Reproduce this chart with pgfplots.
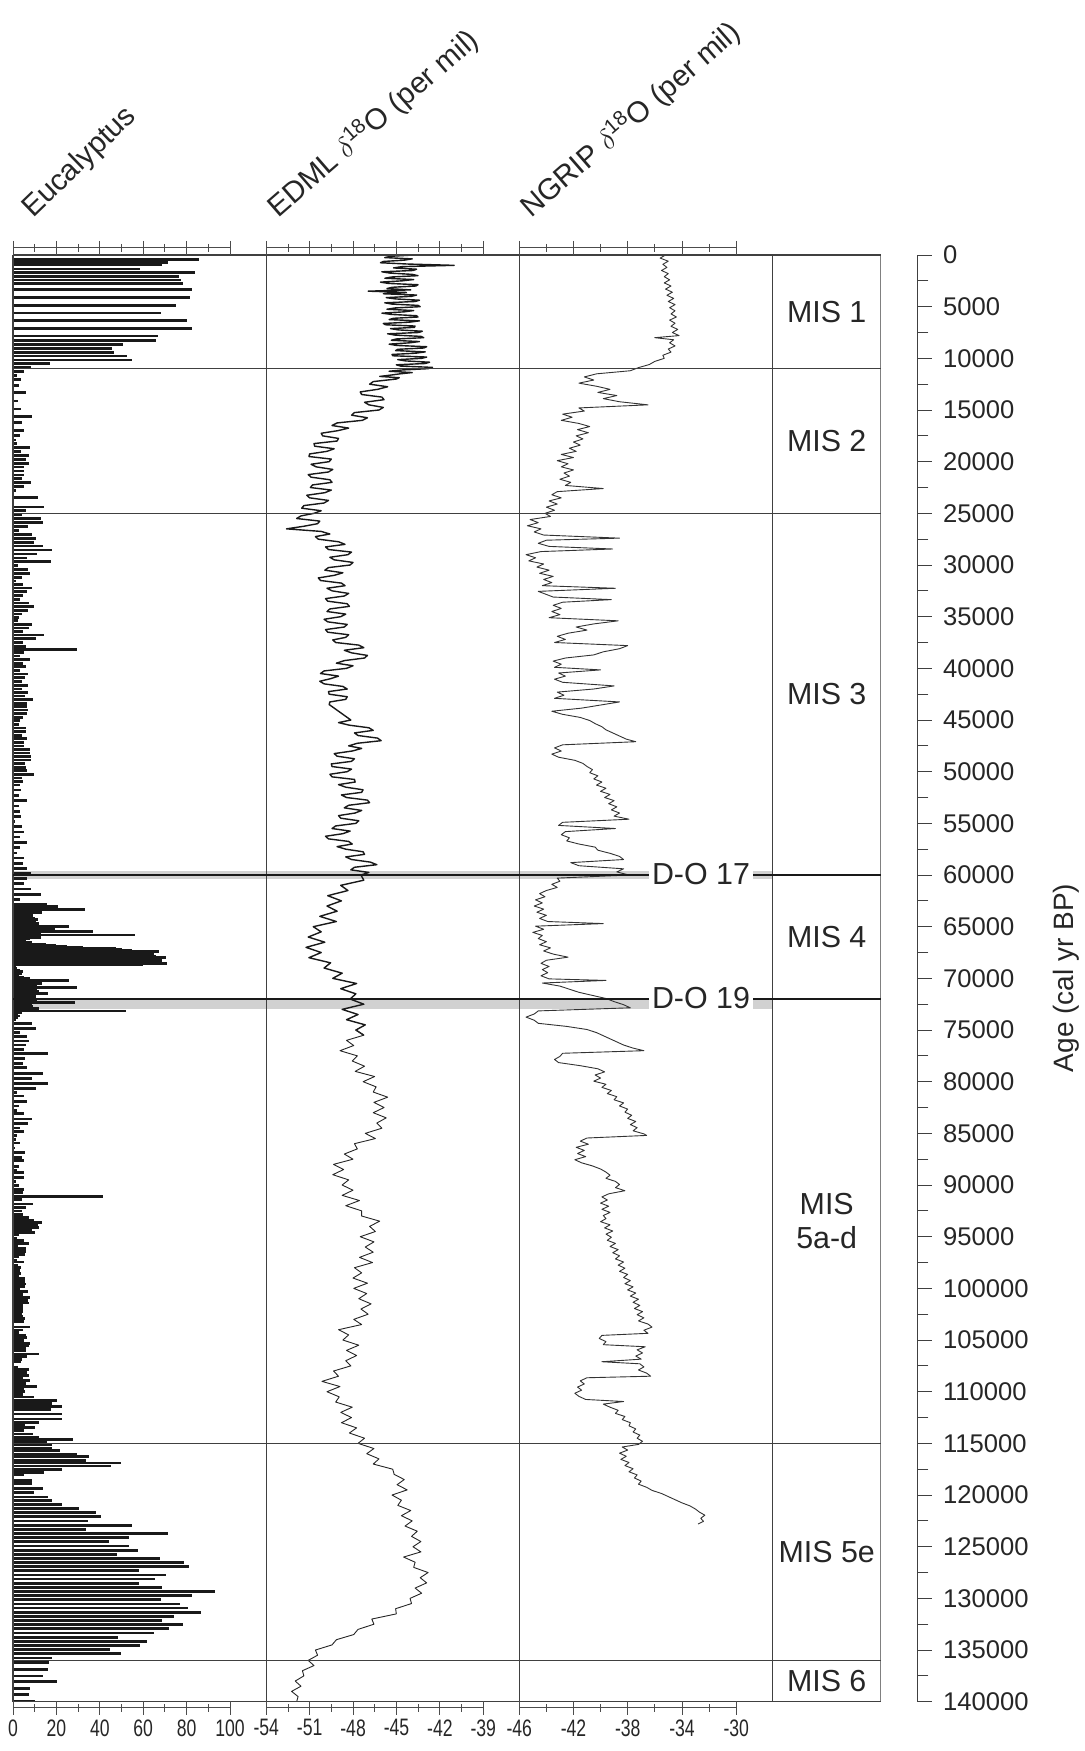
\documentclass[border=0pt]{standalone}
\usepackage{pgfplots}
\pgfplotsset{compat=1.18}
\usepackage{pgfplotstable}
\usepackage{fontspec}
\setmainfont{Liberation Sans}
\newfontfamily\narrowfont[FakeStretch=0.74]{Liberation Sans}

\pgfplotstableread{
age val
0 78.2
420 85.9
740 71.6
970 68.5
1355 58.5
1680 83.9
2065 76.6
2420 77.4
2775 78.2
3355 82.3
4095 81.6
4870 75.1
5610 68.0
6355 80.3
7130 82.3
7840 67.0
8260 65.8
8680 50.5
9065 45.8
9450 46.5
9775 52.5
10160 54.8
10520 16.9
10905 8.1
11290 5.1
11680 1.7
12030 3.7
12610 2.8
13320 6.1
14130 2.5
14900 3.5
15650 8.6
16230 4.1
16970 5.1
17480 3.1
17900 1.2
18260 1.7
18650 8.0
19030 3.5
19380 7.4
19770 6.0
20160 7.4
20520 5.2
20900 4.9
21290 5.1
21650 4.0
22030 8.4
22420 4.9
22810 1.2
23490 11.5
24390 14.1
24740 5.8
25130 4.0
25520 13.1
25900 13.7
26290 7.1
26680 2.8
27030 8.9
27420 10.8
27800 9.8
28160 14.0
28550 18.1
28940 10.9
29320 6.3
29680 17.4
30070 2.2
30460 6.8
30800 8.0
31190 4.0
31550 1.2
31870 4.8
32230 8.6
32580 6.3
32930 4.4
33320 3.1
33680 7.5
34030 9.7
34380 7.1
34740 4.3
35100 2.9
35390 2.5
35780 8.9
36100 7.5
36460 4.8
36780 14.1
37130 10.5
37500 4.5
37850 6.2
38150 29.5
38450 5.1
38800 3.4
39150 8.0
39500 4.8
39850 6.0
40200 3.2
40550 7.0
40900 5.5
41290 4.0
41680 6.9
42000 4.1
42320 6.9
42680 5.4
43040 9.2
43390 6.6
43710 6.3
44030 6.8
44390 6.5
44740 4.4
45070 3.1
45420 2.9
45780 6.1
46130 6.0
46480 4.1
46810 6.6
47160 5.1
47520 5.1
47840 7.7
48190 8.0
48520 8.1
48870 8.1
49230 5.5
49580 5.8
49910 6.5
50260 9.5
50610 4.3
50940 4.8
51290 3.4
51780 3.7
52320 2.6
52810 6.5
53320 2.9
53840 3.4
54320 3.7
54840 0.7
55330 4.3
55840 5.1
56320 3.4
56840 6.6
57360 3.4
57870 1.7
58360 5.1
58870 4.8
59360 6.6
59870 8.1
60360 6.5
60840 5.2
61350 8.1
61870 12.8
62390 3.4
62800 15.5
62950 10.0
63070 20.6
63200 12.0
63360 33.3
63480 11.0
63610 13.5
63750 9.0
63900 9.1
64050 8.0
64170 10.0
64290 11.5
64450 9.0
64560 10.5
64680 11.8
64800 10.0
64900 12.0
65000 25.8
65130 14.0
65260 19.2
65380 15.0
65490 36.9
65650 13.0
65810 56.2
65920 12.0
66030 12.8
66150 8.0
66290 3.1
66420 6.0
66550 8.8
66700 15.0
66840 19.9
66920 25.0
67000 32.4
67070 40.0
67130 47.3
67200 50.0
67280 55.0
67350 60.0
67420 67.3
67500 62.0
67580 63.0
67640 65.0
67700 60.0
67770 58.1
67850 64.0
67920 66.0
68000 70.4
68080 67.0
68170 66.0
68260 68.5
68350 65.0
68430 62.0
68500 66.0
68580 71.1
68680 60.0
68810 1.5
69070 1.7
69200 3.0
69320 4.4
69450 4.0
69580 4.1
69700 2.5
69810 2.8
69950 5.0
70050 8.0
70190 25.6
70300 10.0
70400 9.0
70490 13.5
70550 7.0
70650 7.5
70750 11.0
70870 29.6
71000 9.0
71160 11.1
71300 12.0
71450 16.0
71600 9.0
71770 10.6
71900 10.0
72100 10.5
72200 11.0
72360 28.4
72480 8.0
72610 8.6
72750 9.0
72900 11.8
73000 10.0
73160 52.2
73300 4.0
73520 2.3
73650 3.0
73780 2.5
73970 1.2
74360 8.8
74840 10.5
75260 3.4
75650 6.6
76070 7.2
76450 6.1
76870 5.2
77290 16.1
77740 5.5
78220 4.8
78650 6.6
79190 13.7
79680 8.9
80190 16.0
80680 10.6
81070 2.0
81390 5.2
81880 6.3
82360 2.9
82760 1.7
83080 4.9
83600 8.9
84080 7.1
84480 3.1
84810 5.2
85210 1.7
85610 1.2
85930 3.4
86410 0.8
86890 5.4
87300 4.0
87610 4.9
88180 2.8
88580 1.7
88810 5.2
89300 5.1
89620 1.4
90020 2.9
90420 5.1
90700 4.8
91100 41.3
91390 4.1
91830 9.1
92190 5.8
92510 4.3
92830 4.4
93110 7.2
93390 9.8
93630 13.2
93920 11.7
94110 12.0
94310 8.6
94630 10.0
94830 2.8
95120 1.7
95400 5.2
95640 7.4
95880 2.5
96160 6.0
96400 6.1
96690 5.4
96960 2.6
97250 1.7
97450 4.9
97730 2.5
98010 3.5
98240 3.1
98530 3.5
98770 2.8
99050 5.7
99330 5.5
99570 6.0
99810 5.4
100020 3.4
100330 6.8
100620 4.8
100860 7.8
101140 7.1
101420 7.4
101660 4.4
101940 4.4
102220 4.8
102460 4.3
102740 4.8
102940 5.5
103230 5.1
103740 7.7
104030 4.8
104260 2.9
104540 5.8
104740 6.6
105020 4.9
105300 7.7
105540 7.4
105830 5.8
106070 6.0
106350 12.1
106590 6.5
106870 4.3
107080 3.7
107350 0.3
107630 2.2
107880 7.4
108110 6.6
108440 7.4
108670 4.8
108950 7.8
109200 6.0
109480 11.1
109680 5.1
109960 5.5
110240 4.8
110520 9.7
110840 20.1
111120 18.1
111440 22.6
111760 17.4
112160 22.6
112650 22.4
112970 12.0
113250 5.7
113450 10.1
113740 5.1
114100 9.4
114410 11.9
114620 27.6
114860 15.5
115140 18.1
115460 17.8
115700 21.5
116020 29.3
116300 35.0
116620 33.6
116900 49.6
117180 45.0
117500 22.6
117790 14.4
118060 5.1
118580 8.6
118910 8.8
119390 14.0
119790 9.5
120190 16.3
120510 17.8
120910 22.6
121310 30.6
121710 38.1
122110 40.6
122510 34.4
122920 54.8
123320 33.8
123720 71.6
124130 53.3
124520 44.4
124930 53.6
125330 57.4
125730 47.8
126130 67.9
126530 78.7
126930 81.0
127330 58.2
127740 70.7
128130 65.4
128540 58.2
128940 68.8
129340 93.2
129740 82.3
130140 68.0
130540 77.1
130930 80.5
131340 86.5
131740 74.2
132150 68.5
132550 78.2
132950 71.7
133350 65.0
133750 48.5
134150 61.8
134560 58.7
134960 44.6
135360 49.8
135760 17.8
136240 16.7
136880 16.3
137520 13.7
138080 20.4
138720 7.8
139290 7.5
139930 10.1
}\euc

\pgfplotstableread{
age val
0 -43.8
125 -45.4
250 -45.8
375 -43.9
500 -44.45
625 -45.9
750 -46.1
875 -44.2
1000 -41.0
1125 -44.6
1250 -45.2
1375 -43.6
1500 -43.85
1625 -46.0
1750 -45.45
1875 -43.9
2000 -43.5
2125 -45.3
2250 -45.8
2375 -43.8
2500 -44.6
2625 -46.1
2750 -45.55
2875 -43.5
3000 -43.65
3125 -45.3
3250 -45.65
3375 -44.0
3500 -46.95
3625 -44.3
3750 -45.9
3875 -43.6
4000 -43.95
4125 -45.7
4250 -45.05
4375 -43.4
4500 -43.7
4625 -45.8
4750 -45.3
4875 -43.5
5000 -43.35
5125 -45.1
5250 -45.65
5375 -43.8
5500 -44.45
5625 -46.0
5750 -45.35
5875 -43.6
6000 -43.5
6125 -45.2
6250 -45.5
6375 -43.4
6500 -44.1
6625 -45.9
6750 -45.75
6875 -43.7
7000 -43.75
7125 -45.4
7250 -44.85
7375 -43.2
7500 -43.45
7625 -45.6
7750 -45.1
7875 -43.3
8000 -43.1
8125 -45.0
8250 -45.35
8375 -43.4
8500 -44.1
8625 -45.5
8750 -45.0
8875 -42.9
9000 -43.1
9125 -44.9
9250 -45.05
9375 -43.0
9500 -43.65
9625 -45.3
9750 -45.25
9875 -42.9
10000 -43.25
10125 -44.9
10250 -44.35
10375 -42.7
10500 -43.0
10625 -45.0
10750 -44.7
10875 -42.5
11000 -42.8
11125 -44.6
11250 -45.5
11375 -43.9
11500 -44.75
11625 -45.4
11750 -46.15
11875 -44.8
12000 -45.0
12250 -46.6
12500 -46.85
12750 -45.6
13000 -46.3
13250 -47.5
13500 -47.4
13750 -46.0
14000 -45.85
14250 -47.2
14500 -46.9
14750 -45.9
15000 -46.2
15250 -47.9
15500 -48.1
15750 -47.0
16000 -47.35
16250 -49.1
16500 -49.45
16750 -48.3
17000 -49.05
17250 -50.2
17500 -50.1
17750 -49.0
18000 -49.1
18250 -50.7
18500 -50.65
18750 -49.3
19000 -49.8
19250 -51.0
19500 -51.05
19750 -49.5
20000 -49.65
20250 -50.9
20500 -50.55
20750 -49.4
21000 -49.7
21250 -51.1
21500 -50.9
21750 -49.6
22000 -49.45
22250 -50.8
22500 -50.95
22750 -49.5
23000 -49.95
23250 -51.2
23500 -51.0
23750 -49.7
24000 -50.0
24250 -51.4
24500 -51.55
24750 -50.2
25000 -50.7
25250 -51.6
25500 -51.9
25750 -50.3
26000 -50.45
26250 -51.4
26500 -52.6
26750 -50.2
27000 -49.6
27250 -50.6
27500 -50.4
27750 -49.0
28000 -48.55
28250 -49.9
28500 -49.7
28750 -48.1
29000 -48.35
29250 -49.6
29500 -49.3
29750 -48.0
30000 -48.2
30250 -49.7
30500 -49.95
30750 -48.7
31000 -49.3
31250 -50.4
31500 -50.25
31750 -48.8
32000 -48.55
32250 -49.8
32500 -49.45
32750 -48.3
33000 -48.6
33250 -49.9
33500 -49.75
33750 -48.4
34000 -48.25
34250 -49.6
34500 -49.8
34750 -48.5
35000 -48.85
35250 -50.0
35500 -49.75
35750 -48.4
36000 -48.6
36250 -49.9
36500 -49.75
36750 -48.3
37000 -48.5
37250 -49.4
37500 -49.2
37750 -47.6
38000 -47.25
38250 -48.6
38500 -48.1
38750 -47.0
39000 -47.2
39250 -48.6
39500 -49.15
39750 -48.0
40000 -48.45
40250 -50.0
40500 -50.25
40750 -49.0
41000 -49.55
41250 -50.3
41500 -50.0
41750 -48.7
42000 -48.4
42250 -49.7
42500 -49.65
42750 -48.4
43000 -48.5
43250 -49.6
43500 -49.65
45000 -48.15
45250 -49.0
45500 -48.25
45750 -46.9
46000 -46.6
46250 -47.9
46500 -47.65
46750 -46.3
47000 -46.05
47250 -47.7
47500 -48.3
47750 -47.4
48000 -48.05
48250 -49.3
48500 -49.1
48750 -47.9
49000 -48.1
49250 -49.5
49500 -49.45
49750 -48.1
50000 -48.4
50250 -49.6
50500 -49.45
50750 -47.9
51000 -47.85
51250 -49.0
51500 -48.5
51750 -47.3
52000 -47.4
52250 -48.8
52500 -48.45
52750 -47.0
53000 -46.85
53250 -48.3
53500 -48.6
53750 -47.4
54000 -47.85
54250 -49.0
54500 -48.85
54750 -47.6
55000 -47.8
55250 -49.2
55500 -49.45
55750 -48.2
56000 -48.7
56250 -49.9
56500 -49.7
56750 -48.3
57000 -48.05
57250 -49.1
57500 -48.5
57750 -47.3
58000 -47.2
58250 -48.5
58500 -48.1
58750 -46.8
59000 -46.35
59250 -47.9
59500 -48.15
59750 -46.9
60000 -47.45
60500 -47.25
61000 -48.85
61500 -48.35
62000 -49.75
62500 -48.8
63000 -49.8
63500 -49.1
64000 -50.3
64500 -49.15
65000 -50.75
65500 -50.2
66000 -51.1
66500 -49.95
67000 -51.25
67500 -50.2
68000 -51.05
68500 -49.55
69000 -50.0
69500 -48.75
70000 -49.4
70500 -47.75
71000 -48.85
71500 -47.8
72000 -48.2
72500 -47.25
73000 -48.75
73500 -47.65
74000 -48.45
74500 -47.15
75000 -47.8
75500 -47.25
76000 -48.45
76500 -47.95
77000 -48.9
77500 -47.7
78000 -48.05
78500 -47.2
79000 -47.85
79500 -46.5
80000 -47.3
80500 -46.4
81000 -46.6
81500 -45.6
82000 -46.55
82500 -45.85
83000 -46.6
83500 -45.7
84000 -46.35
84500 -46.0
85000 -47.15
85500 -46.45
86000 -47.9
86500 -47.7
87000 -48.6
87500 -48.0
88000 -49.35
88500 -48.65
89000 -49.4
89500 -48.3
90000 -48.75
90500 -48.0
91000 -48.75
91500 -47.55
92000 -48.5
92500 -47.4
93000 -47.4
93500 -46.15
94000 -46.85
94500 -46.45
95000 -47.5
95500 -46.55
96000 -47.15
96500 -46.6
97000 -47.55
97500 -46.65
98000 -47.9
98500 -47.4
99000 -48.0
99500 -47.0
100000 -47.95
100500 -47.05
101000 -47.6
101500 -46.75
102000 -47.45
102500 -46.95
103000 -47.95
103500 -47.4
104000 -49.0
104500 -48.3
105000 -48.7
105500 -47.6
106000 -48.45
106500 -47.75
107000 -48.5
107500 -48.15
108000 -49.35
108500 -49.0
109000 -50.15
109500 -48.9
110000 -49.8
110500 -48.95
111000 -49.2
111500 -48.05
112000 -48.85
112500 -48.1
113000 -48.8
113500 -47.75
114000 -48.25
114500 -47.2
115000 -47.65
115500 -46.55
116000 -47.05
116500 -46.2
117000 -46.6
117500 -45.25
118000 -45.15
118500 -44.45
119000 -44.95
119500 -44.25
120000 -45.3
120500 -44.65
121000 -44.9
121500 -44.0
122000 -44.65
122500 -43.9
123000 -44.4
123500 -43.55
124000 -43.95
124500 -43.3
125000 -43.85
125500 -43.3
126000 -44.5
126500 -43.7
127000 -43.8
127500 -42.8
128000 -43.35
128500 -42.9
129000 -43.7
129500 -43.25
130000 -44.05
130500 -43.95
131000 -45.05
131500 -45.0
132000 -46.7
132500 -46.55
133000 -47.65
133500 -47.95
134000 -49.15
134500 -49.45
135000 -50.6
135500 -50.45
136000 -51.1
136500 -50.7
137000 -51.5
137500 -51.4
138000 -52.0
138500 -51.6
139000 -52.25
139500 -51.8
140000 -51.9
}\edml

\pgfplotstableread{
age val
0 -35.2
300 -35.6
600 -35.0
900 -35.4
1200 -35.1
1500 -35.5
1800 -35.0
2100 -35.3
2400 -34.9
2700 -35.3
3000 -34.8
3300 -35.2
3600 -34.7
3900 -35.1
4200 -34.6
4500 -35.0
4800 -34.5
5100 -34.9
5400 -34.5
5700 -34.8
6000 -34.4
6300 -34.9
6600 -34.5
6900 -34.8
7200 -34.3
7500 -34.7
7800 -34.2
8000 -36.0
8200 -34.6
8500 -34.9
8800 -34.5
9100 -35.0
9400 -34.8
9700 -35.4
10000 -35.3
10300 -36.0
10600 -36.4
10900 -37.2
11200 -37.8
11500 -40.3
11800 -41.2
12100 -40.5
12400 -41.6
12700 -40.3
13000 -39.3
13300 -40.2
13600 -38.8
13900 -39.8
14200 -38.6
14500 -36.5
14800 -41.6
15100 -41.2
15400 -42.8
15700 -42.1
16000 -42.9
16300 -41.6
16600 -40.8
16900 -41.7
17200 -40.9
17500 -41.8
17800 -41.3
18100 -42.0
18400 -41.5
18700 -42.3
19000 -41.8
19300 -42.9
19600 -42.0
19900 -43.2
20200 -42.4
20500 -42.9
20800 -42.0
21100 -42.7
21400 -42.3
21700 -43.0
22000 -42.2
22300 -42.6
22600 -39.8
22900 -43.2
23200 -43.6
23500 -42.9
23800 -43.8
24100 -43.2
24400 -44.0
24700 -43.4
25000 -44.1
25300 -43.7
25600 -45.2
25900 -44.6
26200 -45.4
26500 -44.4
26800 -44.9
27100 -44.2
27400 -38.6
27600 -44.0
27900 -44.6
28200 -43.8
28450 -39.1
28700 -44.4
29000 -45.5
29300 -44.8
29600 -45.3
29900 -44.2
30200 -44.7
30500 -43.8
30800 -44.5
31100 -43.5
31400 -44.2
31700 -43.6
32000 -44.3
32250 -38.9
32550 -44.6
32850 -44.0
33100 -43.5
33350 -39.2
33600 -42.8
33900 -43.5
34200 -42.9
34500 -43.6
34800 -43.0
35100 -43.8
35400 -38.7
35700 -40.5
36000 -41.8
36300 -41.0
36600 -42.4
36900 -43.2
37200 -42.6
37500 -43.4
37800 -38.0
38100 -38.6
38400 -39.8
38700 -40.5
39000 -42.6
39300 -43.5
39600 -42.9
39900 -43.4
40150 -40.0
40450 -43.1
40750 -42.6
41050 -43.4
41350 -42.8
41700 -39.0
42000 -40.5
42300 -43.2
42600 -42.7
42900 -43.4
43250 -38.6
43550 -40.0
43850 -41.4
44150 -43.6
44450 -42.8
44750 -41.5
45050 -40.8
45350 -40.4
45650 -39.9
45950 -39.6
46250 -39.1
46550 -38.6
46850 -38.1
47100 -37.4
47400 -42.8
47700 -43.4
48000 -42.9
48300 -43.6
48600 -43.1
48900 -41.9
49200 -41.3
49500 -41.0
49800 -40.6
50100 -40.8
50400 -40.2
50700 -40.5
51000 -39.9
51300 -40.3
51600 -39.6
51900 -40.0
52200 -39.3
52500 -39.7
52800 -39.0
53100 -39.4
53400 -38.8
53700 -39.2
54000 -38.6
54300 -39.0
54600 -37.9
54900 -42.8
55200 -43.1
55500 -38.9
55800 -42.6
56100 -42.9
56400 -42.3
56700 -42.5
57000 -41.6
57300 -40.4
57600 -40.2
57900 -39.3
58200 -38.6
58500 -38.3
58800 -42.2
59100 -41.6
59400 -38.3
59700 -38.8
60000 -37.9
60300 -43.2
60600 -43.0
60900 -43.6
61200 -43.2
61500 -44.0
61800 -44.5
62100 -44.1
62400 -44.8
62700 -44.3
63000 -44.9
63300 -44.2
63600 -44.7
63900 -44.0
64200 -44.5
64500 -43.9
64700 -39.8
64950 -44.8
65250 -44.2
65550 -45.0
65850 -44.3
66150 -44.6
66450 -44.0
66750 -44.5
67050 -43.7
67350 -44.2
67650 -43.5
67950 -42.4
68250 -44.0
68550 -44.4
68850 -43.8
69150 -44.3
69450 -43.9
69750 -44.4
70050 -43.8
70200 -39.6
70450 -44.3
70750 -43.0
71050 -42.3
71350 -41.6
71650 -40.6
71950 -39.6
72250 -39.0
72550 -38.3
72850 -37.8
73150 -44.6
73450 -44.9
73750 -45.5
74050 -44.9
74350 -44.6
74650 -42.5
74950 -41.0
75250 -40.3
75550 -39.8
75850 -39.3
76150 -38.8
76450 -38.3
76750 -37.6
77000 -36.8
77250 -42.8
77550 -43.0
77850 -43.4
78150 -43.1
78450 -41.5
78750 -40.2
79050 -39.7
79350 -40.4
79650 -40.0
79950 -40.5
80250 -39.6
80550 -39.9
80850 -39.2
81150 -39.5
81450 -38.8
81750 -39.0
82050 -38.3
82350 -38.6
82650 -38.0
82950 -38.2
83250 -37.7
83550 -38.0
83850 -37.4
84150 -37.8
84450 -37.3
84750 -37.6
85050 -36.8
85200 -36.6
85450 -41.0
85750 -41.5
86050 -40.9
86350 -41.8
86650 -41.2
86950 -41.7
87250 -41.1
87550 -41.9
87850 -41.4
88150 -40.6
88450 -40.0
88750 -39.6
89050 -39.3
89350 -39.6
89650 -38.9
89950 -38.6
90250 -38.9
90550 -38.2
90850 -39.4
91150 -39.9
91450 -39.5
91750 -40.0
92050 -39.4
92350 -39.9
92650 -39.3
92950 -39.8
93250 -39.6
93550 -40.0
93850 -39.3
94150 -39.7
94450 -39.1
94750 -39.6
95050 -39.2
95350 -39.5
95650 -38.9
95950 -39.3
96250 -38.7
96550 -39.1
96850 -38.6
97150 -38.9
97450 -38.3
97750 -38.7
98050 -38.2
98350 -38.6
98650 -38.0
98950 -38.3
99250 -37.8
99550 -38.2
99850 -37.6
100150 -38.0
100450 -37.4
100750 -37.8
101050 -37.2
101350 -37.6
101650 -37.1
101950 -37.5
102250 -36.9
102550 -37.3
102850 -36.8
103150 -37.2
103450 -36.5
103750 -36.2
104050 -36.8
104350 -36.5
104550 -39.9
104850 -40.1
105150 -39.6
105450 -39.8
105650 -36.7
105950 -37.3
106250 -36.9
106550 -37.4
106850 -37.0
107100 -39.9
107300 -37.1
107600 -36.8
107900 -37.2
108200 -36.6
108500 -36.3
108650 -41.0
108950 -41.5
109250 -41.2
109550 -41.7
109850 -41.4
110150 -41.9
110450 -41.6
110750 -41.1
110950 -38.3
111200 -39.8
111500 -39.3
111800 -38.7
112100 -38.9
112400 -38.2
112700 -38.4
113000 -37.8
113300 -37.9
113600 -37.4
113900 -37.6
114200 -37.1
114500 -37.3
114800 -36.9
115100 -37.2
115350 -38.4
115650 -38.0
115950 -38.6
116250 -38.1
116550 -38.5
116850 -37.9
117150 -38.2
117450 -37.6
117750 -37.9
118050 -37.3
118350 -37.5
118650 -37.0
118950 -37.2
119250 -36.6
119550 -36.2
119850 -35.5
120150 -35.0
120450 -34.5
120750 -34.0
121050 -33.4
121350 -33.0
121650 -32.7
121950 -32.3
122250 -32.6
122550 -32.4
122800 -32.8
}\ngrip

\tikzset{frame/.style={black!75, line width=0.6pt}}
\pgfplotsset{
  agecol/.style={scale only axis, height=723.35pt, y dir=reverse, ymin=0, ymax=140000, anchor=south west, hide axis},
  ruler/.style={scale only axis, width=108.5pt, height=1pt, ymin=0, ymax=1, hide y axis, anchor=south west,
    xtick align=outside, major tick length=7pt, minor tick length=4pt},
  rulerline/.style={axis line style={-}, x axis line style={-, black!70, line width=0.5pt},
    every outer x axis line/.append style={-}, every inner x axis line/.append style={-},
    xtick style={black!70, line width=0.5pt}},
  toprule/.style={ruler, axis x line=top, rulerline, xticklabels={}},
  botrule/.style={ruler, axis x line=bottom, rulerline,
    xticklabel style={font=\narrowfont\fontsize{11.9}{12}\selectfont, text=black!85, inner sep=2pt},
    /pgf/number format/assume math mode=true},
}

\begin{document}
\begin{tikzpicture}[x=1pt,y=1pt]
\useasboundingbox (0,0) rectangle (542,875.5);

% grey D-O bands
\begin{axis}[agecol, at={(6.5pt,24.65pt)}, width=433.85pt, xmin=13, xmax=880.7]
  \fill[black!18] (axis cs:13,59650) rectangle (axis cs:772.7,60400);
  \fill[black!18] (axis cs:13,71950) rectangle (axis cs:772.7,73000);
\end{axis}

% Eucalyptus
\begin{axis}[agecol, at={(6.5pt,24.65pt)}, width=126.75pt, xmin=0, xmax=116.82]
  \addplot[xcomb, draw=black!90, line width=1.4pt] table[x=val,y=age]{\euc};
\end{axis}

% EDML
\begin{axis}[agecol, at={(133.15pt,24.65pt)}, width=126.5pt, xmin=-54, xmax=-36.49]
  \addplot[black!90, line width=0.7pt, line join=round, restrict y to domain=0:75600] table[x=val,y=age]{\edml};
  \addplot[black!85, line width=0.45pt, line join=round, restrict y to domain=74900:140000] table[x=val,y=age]{\edml};
\end{axis}

% NGRIP
\begin{axis}[agecol, at={(259.65pt,24.65pt)}, width=126.7pt, xmin=-46, xmax=-27.29]
  \addplot[black!80, line width=0.45pt, line join=round] table[x=val,y=age]{\ngrip};
\end{axis}

% frames, boundaries and labels
\begin{axis}[agecol, at={(6.5pt,24.65pt)}, width=433.85pt, xmin=13, xmax=880.7, clip=false]
  \draw[frame] (axis cs:13,0) -- (axis cs:13,140000);
  \draw[frame] (axis cs:266.5,0) -- (axis cs:266.5,140000);
  \draw[frame] (axis cs:519.3,0) -- (axis cs:519.3,140000);
  \draw[frame] (axis cs:772.7,0) -- (axis cs:772.7,140000);
  \draw[frame, black!50] (axis cs:880.7,0) -- (axis cs:880.7,140000);
  \draw[frame] (axis cs:13,0) -- (axis cs:880.7,0);
  \draw[frame] (axis cs:13,140000) -- (axis cs:880.7,140000);
  \draw[frame] (axis cs:13,11000) -- (axis cs:880.7,11000);
  \draw[frame] (axis cs:13,25000) -- (axis cs:880.7,25000);
  \draw[frame, black!90] (axis cs:13,60000) -- (axis cs:880.7,60000);
  \draw[frame, black!90] (axis cs:13,72000) -- (axis cs:880.7,72000);
  \draw[frame] (axis cs:13,115000) -- (axis cs:880.7,115000);
  \draw[frame] (axis cs:13,136000) -- (axis cs:880.7,136000);
  \node[font=\fontsize{15.2}{17}\selectfont, text=black!85] at (axis cs:826.7,5500) {MIS 1};
  \node[font=\fontsize{15.2}{17}\selectfont, text=black!85] at (axis cs:826.7,18000) {MIS 2};
  \node[font=\fontsize{15.2}{17}\selectfont, text=black!85] at (axis cs:826.7,42500) {MIS 3};
  \node[font=\fontsize{15.2}{17}\selectfont, text=black!85] at (axis cs:826.7,66000) {MIS 4};
  \node[font=\fontsize{15.2}{16.8}\selectfont, text=black!85, align=center] at (axis cs:826.7,93500) {MIS\\5a-d};
  \node[font=\fontsize{15.2}{17}\selectfont, text=black!85] at (axis cs:826.7,125500) {MIS 5e};
  \node[font=\fontsize{15.2}{17}\selectfont, text=black!85] at (axis cs:826.7,138000) {MIS 6};
  \node[font=\fontsize{15.2}{17}\selectfont, text=black!85, fill=white, inner xsep=1.5pt, inner ysep=1pt] at (axis cs:701,59950) {D-O 17};
  \node[font=\fontsize{15.2}{17}\selectfont, text=black!85, fill=white, inner xsep=1.5pt, inner ysep=1pt] at (axis cs:701,71950) {D-O 19};
\end{axis}

% top rulers
\begin{axis}[toprule, at={(6.5pt,750.5pt)}, xmin=0, xmax=100, xtick={0,20,40,60,80,100}, minor xtick={10,30,50,70,90}]
\end{axis}
\begin{axis}[toprule, at={(133.15pt,750.5pt)}, xmin=-54, xmax=-39, xtick={-54,-51,-48,-45,-42,-39}, minor xtick={-52.5,-49.5,-46.5,-43.5,-40.5}]
\end{axis}
\begin{axis}[toprule, at={(259.65pt,750.5pt)}, xmin=-46, xmax=-30, xtick={-46,-42,-38,-34,-30}, minor xtick={-44,-40,-36,-32}]
\end{axis}

% bottom rulers
\begin{axis}[botrule, at={(6.5pt,21.5pt)}, xmin=0, xmax=100, xtick={0,20,40,60,80,100}, minor xtick={10,30,50,70,90}]
\end{axis}
\begin{axis}[botrule, at={(133.15pt,21.5pt)}, xmin=-54, xmax=-39, xtick={-54,-51,-48,-45,-42,-39}, minor xtick={-52.5,-49.5,-46.5,-43.5,-40.5}]
\end{axis}
\begin{axis}[botrule, at={(259.65pt,21.5pt)}, xmin=-46, xmax=-30, xtick={-46,-42,-38,-34,-30}, minor xtick={-44,-40,-36,-32}]
\end{axis}

% age axis
\begin{axis}[scale only axis, width=10pt, height=723.35pt, at={(448.65pt,24.65pt)}, anchor=south west,
  xmin=0, xmax=1, y dir=reverse, ymin=0, ymax=140000, hide x axis, axis y line=right,
  y axis line style={-, black!75, line width=0.5pt}, ytick style={black!75, line width=0.5pt},
  every outer y axis line/.append style={-}, every inner y axis line/.append style={-},
  ytick={0,5000,10000,15000,20000,25000,30000,35000,40000,45000,50000,55000,60000,65000,70000,75000,80000,85000,90000,95000,100000,105000,110000,115000,120000,125000,130000,135000,140000},
  minor y tick num=1, ytick align=outside, major tick length=7.2pt, minor tick length=5.5pt,
  scaled y ticks=false,
  yticklabel style={font=\fontsize{12.8}{13}\selectfont, text=black!85, anchor=west, inner sep=0pt, xshift=5.5pt},
  /pgf/number format/.cd, assume math mode=true, set thousands separator={}, fixed, precision=0]
\end{axis}

% titles
\node[rotate=44, anchor=base west, inner sep=0pt, font=\fontsize{14.8}{16}\selectfont, text=black!85] at (16.5pt,766pt) {Eucalyptus};
\node[rotate=41, anchor=base west, inner sep=0pt, font=\fontsize{14.8}{16}\selectfont, text=black!85] at (139pt,766pt) {EDML $\delta$\textsuperscript{18}O (per mil)};
\node[rotate=41, anchor=base west, inner sep=0pt, font=\fontsize{14.8}{16}\selectfont, text=black!85] at (265.5pt,766pt) {NGRIP $\delta$\textsuperscript{18}O (per mil)};
\node[rotate=90, font=\fontsize{14}{15}\selectfont, text=black!85] at (533pt,386.5pt) {Age (cal yr BP)};
\end{tikzpicture}
\end{document}
